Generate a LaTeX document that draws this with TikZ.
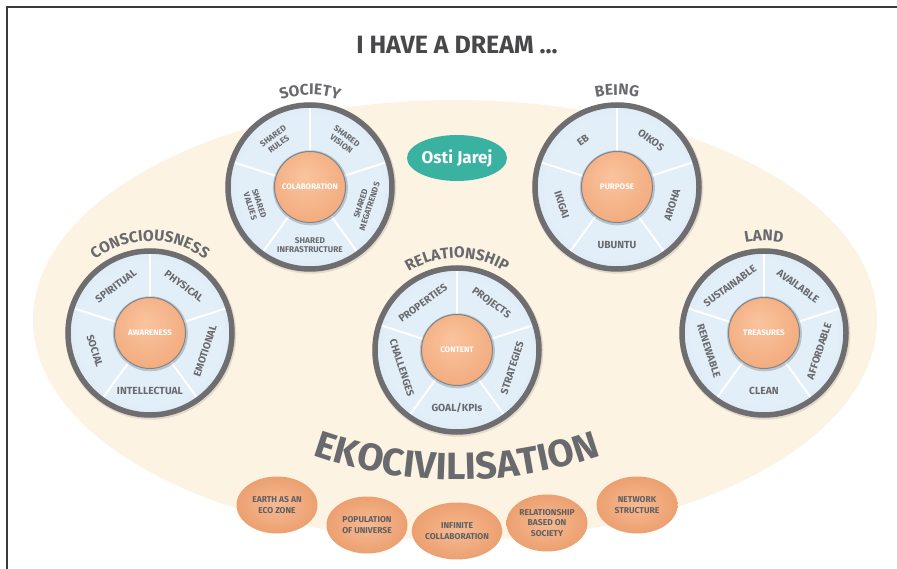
\documentclass[tikz,border=0pt]{standalone}
\usepackage{fontspec}
\setmainfont{Fira Sans}
\usetikzlibrary{decorations.text,shapes.geometric}
\definecolor{beige}{RGB}{253,243,227}
\definecolor{ringgray}{RGB}{110,110,112}
\definecolor{labgray}{RGB}{105,106,110}
\definecolor{titlegray}{RGB}{72,72,74}
\definecolor{segin}{RGB}{226,238,248}
\definecolor{segout}{RGB}{190,215,237}
\definecolor{orin}{RGB}{250,196,158}
\definecolor{orout}{RGB}{236,150,100}
\definecolor{ovin}{RGB}{246,186,146}
\definecolor{ovout}{RGB}{236,160,112}
\definecolor{tealc}{RGB}{58,178,161}
\definecolor{framegray}{RGB}{58,58,58}
\pgfdeclareradialshading{wheelshade}{\pgfpoint{0bp}{0bp}}{color(0bp)=(segin); color(22bp)=(segin); color(50bp)=(segout)}
\pgfdeclareradialshading{coreshade}{\pgfpoint{-4bp}{8bp}}{color(0bp)=(orin); color(30bp)=(orin!45!orout); color(50bp)=(orout)}
\newcommand\wheeltitlefont{\bfseries\fontsize{15.5}{16}\selectfont\color{labgray}}
\newcommand\ekofont{\bfseries\fontsize{38}{40}\selectfont\color{labgray}}
\tikzset{
  seglabel/.style={text=labgray, font=\bfseries\fontsize{10.3}{11}\selectfont, align=center, inner sep=0pt},
  smallseg/.style={text=labgray, font=\bfseries\fontsize{8.3}{9.4}\selectfont, align=center, inner sep=0pt},
  corelabel/.style={text=white, font=\bfseries\fontsize{8}{9}\selectfont, inner sep=0pt},
  ovalnode/.style={ellipse, inner color=ovin, outer color=ovout, minimum width=81pt, minimum height=57pt,
     inner sep=0pt, text=labgray!90!black, align=center, font=\bfseries\fontsize{8.5}{10.5}\selectfont},
  pill/.style={ellipse, fill=tealc, minimum width=100pt, minimum height=46pt, inner sep=0pt,
     text=white, font=\bfseries\fontsize{17}{18}\selectfont}
}
% #1 name, #2 x, #3 y, #4 title, #5 core text
\newcommand\dreamwheel[5]{%
  \begin{scope}[shift={(#2,#3)}]
    \fill[black, opacity=.10] (0.8pt,-1.2pt) circle (85.5pt);
    \shade[shading=wheelshade] (0,0) circle (82pt);
    \foreach \a in {90,18,-54,-126,162} \draw[white, line width=2pt] (\a:34pt) -- (\a:81pt);
    \draw[ringgray, line width=5.5pt] (0,0) circle (82pt);
    \fill[black, opacity=.18] (0.4pt,-0.8pt) circle (37.5pt);
    \shade[shading=coreshade] (0,0) circle (35pt);
    \draw[ringgray!85, line width=1pt] (0,0) circle (35.5pt);
    \node[corelabel] (#1-core) at (0,0) {#5};
    \path[decorate, decoration={text along path, text align=center, text={|\wheeltitlefont|#4}}]
      (160:92pt) arc[start angle=160, end angle=20, radius=92pt];
  \end{scope}}
% #1 name, #2 x, #3 y, #4..#8 labels (upper left, upper right, right, bottom, left), #9 style
\newcommand\wheelsegs[9]{%
  \begin{scope}[shift={(#2,#3)}]
    \node[#9, rotate=36]  (#1-s1) at (126:58pt) {#4};
    \node[#9, rotate=-36] (#1-s2) at (54:58pt) {#5};
    \node[#9, rotate=72]  (#1-s3) at (-18:58pt) {#6};
    \node[#9]             (#1-s4) at (-90:58pt) {#7};
    \node[#9, rotate=-72] (#1-s5) at (198:58pt) {#8};
  \end{scope}}
\begin{document}
\begin{tikzpicture}[x=1pt, y=1pt]
  \useasboundingbox (0,0) rectangle (897,-569);
  \fill[white] (0,0) rectangle (897,-569);
  % background
  \fill[beige] (455,-320) ellipse [x radius=422pt, y radius=220pt];
  % wheels
  \dreamwheel{soc}{310}{-187}{SOCIETY}{COLABORATION}
  \wheelsegs{soc}{310}{-187}{SHARED\\RULES}{SHARED\\VISION}{SHARED\\MEGATRENDS}{SHARED\\INFRASTRUCTURE}{SHARED\\VALUES}{smallseg}
  \dreamwheel{being}{617}{-187}{BEING}{PURPOSE}
  \wheelsegs{being}{617}{-187}{EB}{OIKOS}{AROHA}{UBUNTU}{IKIGAI}{seglabel}
  \dreamwheel{cons}{150}{-333}{CONSCIOUSNESS}{AWARENESS}
  \wheelsegs{cons}{150}{-333}{SPIRITUAL}{PHYSICAL}{EMOTIONAL}{INTELLECTUAL}{SOCIAL}{seglabel}
  \dreamwheel{rel}{457}{-350}{RELATIONSHIP}{CONTENT}
  \wheelsegs{rel}{457}{-350}{PROPERTIES}{PROJECTS}{STRATEGIES}{GOAL/KPIs}{CHALLENGES}{seglabel}
  \dreamwheel{land}{764}{-333}{LAND}{TREASURES}
  \wheelsegs{land}{764}{-333}{SUSTAINABLE}{AVAILABLE}{AFFORDABLE}{CLEAN}{RENEWABLE}{seglabel}
  % Osti Jarej
  \node[pill] (osti) at (457,-158) {Osti Jarej};
  % EKOCIVILISATION
  \coordinate (ekoc) at (457,-48);
  \path[decorate, decoration={text along path, text align=center, text={|\ekofont|EKOCIVILISATION}}]
    (ekoc) ++(240:432pt) arc[start angle=240, end angle=300, radius=432pt];
  % bottom ovals
  \node[ovalnode] (o1) at (277,-505) {EARTH AS AN\\ECO ZONE};
  \node[ovalnode] (o2) at (367,-525) {POPULATION\\OF UNIVERSE};
  \node[ovalnode] (o3) at (457,-531) {INFINITE\\COLLABORATION};
  \node[ovalnode] (o4) at (547,-523) {RELATIONSHIP\\BASED ON\\SOCIETY};
  \node[ovalnode] (o5) at (637,-505) {NETWORK\\STRUCTURE};
  % title
  \node[text=titlegray, font=\bfseries\fontsize{25}{27}\selectfont] (title) at (457,-45) {I HAVE A DREAM ...};
  % frame
  \draw[framegray, line width=1.6pt] (7,-569) -- (7,-7) -- (897,-7);
\end{tikzpicture}
\end{document}
